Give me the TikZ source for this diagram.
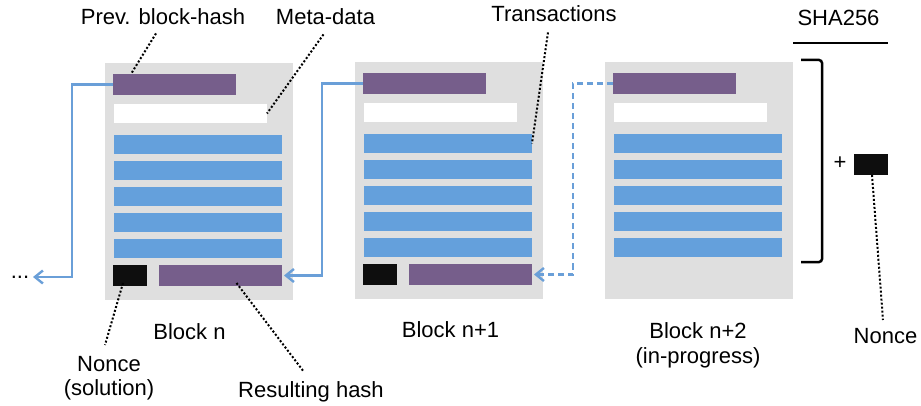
\documentclass[tikz,border=0pt]{standalone}
\usepackage{fontspec}
\setmainfont{Liberation Sans}
\usetikzlibrary{arrows.meta}
\definecolor{blockgray}{HTML}{DFDFDF}
\definecolor{hashpurple}{HTML}{765E8B}
\definecolor{txblue}{HTML}{64A0DC}
\definecolor{linkblue}{HTML}{6A9FD8}
\definecolor{noncebk}{HTML}{0E0E0E}
\newcommand\bxat[6]{\node[#1, minimum width=#4pt, minimum height=#5pt] (#6) at (#2,#3) {};}
\begin{document}
\begin{tikzpicture}[x=1pt,y=-1pt,
  bx/.style={inner sep=0pt, outer sep=0pt, draw=none, anchor=north west},
  blockbg/.style={bx, fill=blockgray},
  hashbar/.style={bx, fill=hashpurple},
  metabar/.style={bx, fill=white},
  txbar/.style={bx, fill=txblue},
  noncebar/.style={bx, fill=noncebk},
  lbl/.style={font=\fontsize{22}{24}\selectfont, inner sep=0pt, anchor=base},
  pointer/.style={black, line width=2pt, dash pattern=on 2pt off 2pt},
  link/.style={linkblue, line width=2.4pt, -{Straight Barb[length=8pt,width=13pt]}},
  linkdash/.style={link, dash pattern=on 6pt off 4pt}
]
\useasboundingbox (0,0) rectangle (921,406);

% blocks
\foreach \i/\dx/\dy in {1/0/0, 2/250/-1, 3/500/-1}{
  \bxat{blockbg}{105+\dx}{63+\dy}{188}{237}{b\i}
  \bxat{hashbar}{113+\dx}{74+\dy}{123}{21}{b\i-prev}
  \bxat{metabar}{114+\dx}{104+\dy}{153}{19}{b\i-meta}
  \foreach \k in {1,...,5}{
    \bxat{txbar}{114+\dx}{109+26*\k+\dy}{168}{19}{b\i-tx\k}
  }
}
\foreach \i/\dx/\dy in {1/0/0, 2/250/-1}{
  \bxat{noncebar}{113+\dx}{265+\dy}{34}{21}{b\i-nonce}
  \bxat{hashbar}{159+\dx}{265+\dy}{123}{21}{b\i-res}
}

% links
\coordinate (chainend) at (33,277);
\draw[link] (b1-prev.west) -- (72,84.5) |- (chainend);
\node[lbl] (dots) at (20,278) {...};
\draw[link] (b2-prev.west) -- (322,83.5) |- ([xshift=2pt]b1-res.east);
\draw[linkdash] (b3-prev.west) -- (573,83.5) |- ([xshift=2pt]b2-res.east);

% SHA256 bracket
\node[lbl] (sha) at (838.5,26) {SHA256};
\coordinate (shaL) at (793,43);
\coordinate (shaR) at (888,43);
\draw[black, line width=2pt] (shaL) -- (shaR);
\draw[black, line width=2.5pt, rounded corners=3pt] (801,60) -- (822,60) -- (822,262) -- (801,262);
\node[lbl, anchor=center] (plus) at (840,163) {+};
\bxat{noncebar}{854}{154}{34}{21}{nonceN}

% labels
\node[lbl] (lprev) at (163,25) {Prev. block-hash};
\node[lbl] (lmeta) at (325.5,25) {Meta-data};
\node[lbl] (ltx) at (554,22) {Transactions};
\node[lbl] (lbn) at (189.5,339) {Block n};
\node[lbl] (lbn1) at (450.5,337) {Block n+1};
\node[lbl, align=center, font=\fontsize{22}{25}\selectfont] (lbn2) at (698,363) {Block n+2\\(in-progress)};
\node[lbl, align=center, font=\fontsize{22}{24}\selectfont] (lnsol) at (109,395) {Nonce\\(solution)};
\node[lbl] (lres) at (311,397) {Resulting hash};
\node[lbl] (lnonce) at (885.5,343) {Nonce};

% pointers
\draw[pointer] ([xshift=-7pt,yshift=-8pt]lprev.south) -- ([xshift=18pt]b1-prev.north west);
\draw[pointer] ([xshift=-2pt,yshift=-9pt]lmeta.south) -- (b1-meta.east);
\draw[pointer] ([xshift=-6pt,yshift=-10pt]ltx.south) -- (b2-tx1.east);
\draw[pointer] ([xshift=-7pt,yshift=3pt]b1-nonce.south) -- (105,345);
\draw[pointer] ([xshift=16pt,yshift=3pt]b1-res.south) -- (304,372);
\draw[pointer] ([xshift=1pt]nonceN.south) -- (883,320);
\end{tikzpicture}
\end{document}
